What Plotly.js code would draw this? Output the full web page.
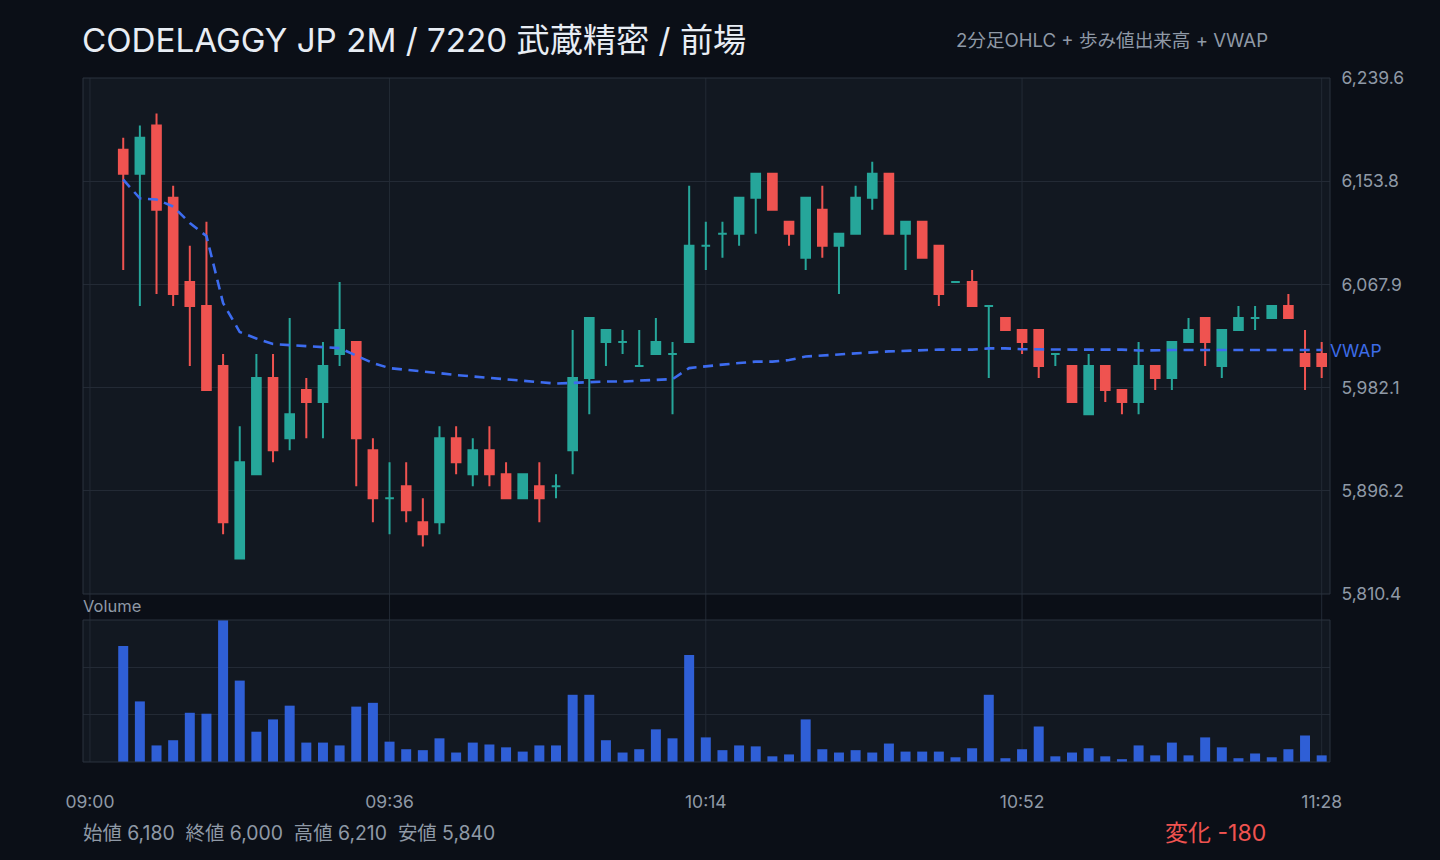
<!DOCTYPE html>
<html><head><meta charset="utf-8">
<script src="https://cdn.plot.ly/plotly-3.0.1.min.js"></script>
<style>html,body{margin:0;padding:0;background:#0b0f17;}#chart{width:1440px;height:860px;}</style>
</head><body><div id="chart"></div>
<script>
// ---- data ----
const time = ['09:04','09:06','09:08','09:10','09:12','09:14','09:16','09:18','09:20','09:22','09:24','09:26','09:28','09:30','09:32','09:34','09:36','09:38','09:40','09:42','09:44','09:46','09:48','09:50','09:52','09:54','09:56','09:58','10:00','10:02','10:04','10:06','10:08','10:10','10:12','10:14','10:16','10:18','10:20','10:22','10:24','10:26','10:28','10:30','10:32','10:34','10:36','10:38','10:40','10:42','10:44','10:46','10:48','10:50','10:52','10:54','10:56','10:58','11:00','11:02','11:04','11:06','11:08','11:10','11:12','11:14','11:16','11:18','11:20','11:22','11:24','11:26','11:28'];
const open = [6180,6160,6200,6140,6070,6050,6000,5840,5910,5990, 5940,5980,5970,6010,6020,5930,5890,5900,5870,5870, 5940,5910,5930,5910,5890,5900,5900,5930,5990,6020, 6020,6000,6010,6010,6020,6100,6110,6110,6140,6160, 6120,6090,6130,6100,6110,6140,6160,6110,6120,6100, 6070,6070,6050,6040,6030,6030,6010,6000,5960,6000, 5980,5970,6000,5990,6020,6040,6000,6030,6040,6040, 6050,6010,6010];
const high = [6190,6200,6210,6150,6100,6120,6010,5950,6010,6010, 6040,5990,6020,6070,6020,5940,5920,5920,5890,5950, 5950,5940,5950,5920,5910,5920,5910,6030,6040,6030, 6030,6030,6040,6020,6150,6120,6120,6140,6160,6160, 6120,6140,6150,6110,6150,6170,6160,6120,6120,6100, 6070,6080,6050,6040,6030,6030,6010,6000,6010,6000, 5980,6020,6000,6020,6040,6040,6030,6050,6050,6050, 6060,6030,6020];
const low = [6080,6050,6060,6050,6000,5980,5860,5840,5910,5920, 5930,5940,5940,6000,5900,5870,5860,5870,5850,5860, 5910,5900,5900,5890,5890,5870,5890,5910,5960,6000, 6010,6000,6010,5960,6020,6080,6090,6100,6110,6130, 6100,6080,6090,6060,6110,6130,6110,6080,6090,6050, 6070,6050,5990,6030,6010,5990,6000,5970,5960,5970, 5960,5960,5980,5980,6020,6000,5990,6030,6030,6040, 6040,5980,5990];
const close = [6160,6190,6130,6060,6050,5980,5870,5920,5990,5930, 5960,5970,6000,6030,5940,5890,5890,5880,5860,5940, 5920,5930,5910,5890,5910,5890,5900,5990,6040,6030, 6020,6000,6020,6010,6100,6100,6110,6140,6160,6130, 6110,6140,6100,6110,6140,6160,6110,6120,6090,6060, 6070,6050,6050,6030,6020,6000,6010,5970,6000,5980, 5970,6000,5990,6020,6030,6020,6030,6040,6040,6050, 6040,6000,6000];
const volume = [24500,12800,3500,4600,10400,10200,30000,17200,6400,9000, 11900,4100,4100,3500,11700,12500,4300,2700,2500,5000, 2000,4100,3700,3100,2200,3500,3500,14200,14200,4600, 2000,2700,6900,5000,22600,5200,2500,3500,3300,1200, 1600,9000,2700,2000,2500,2000,3900,2200,2200,2200, 1000,2900,14200,800,2700,7500,1200,2000,2900,1200, 600,3500,1400,4100,1400,5200,3100,800,1800,1000, 2700,5600,1400];
const vwap = [6155.1,6139.5,6138.5,6132.7,6119.0,6108.1,6052.4,6028.3,6022.9,6018.3, 6017.4,6016.6,6015.8,6014.9,6008.7,6002.5,5998.3,5997.0,5995.8,5994.1, 5992.5,5991.2,5990.0,5988.7,5987.9,5986.6,5985.4,5986.2,5986.6,5987.1, 5987.1,5987.9,5988.7,5989.1,5998.3,6000.0,6001.2,6002.5,6003.7,6003.7, 6005.0,6007.9,6008.9,6009.5,6010.5,6011.4,6012.2,6012.9,6013.0,6013.7, 6013.7,6013.7,6014.7,6014.7,6014.0,6013.7,6013.7,6013.7,6013.7,6013.7, 6013.7,6012.9,6013.3,6013.3,6013.3,6013.3,6013.3,6013.3,6013.3,6013.3, 6013.3,6013.3,6013.3];
const xTickLabels = ['09:00','09:36','10:14','10:52','11:28'];
const priceTicks = [5810.4,5896.2,5982.1,6067.9,6153.8,6239.6];
const priceRange = [5810.4,6239.6];
const volumeTicks = [10000,20000];
const volumeRange = [0,30000];
const xRange = ['08:59:10','11:29:00'];

// ---- helpers ----
const DAY = '2024-01-01 ';
const toD = t => DAY + t;
const W = 1440, H = 860, L = 83, R = 1330, T = 78, B = 762;
const px = x => (x - L) / (R - L);
const py = y => (B - y) / (B - T);
const FONT = "Inter, 'Noto Sans CJK JP', sans-serif";
const GRAY = '#8f99a6', GRID = '#232a35', FRAME = '#2a323f';
const GREEN = '#26a69a', RED = '#ef5350';

const x = time.map(toD);
const upIdx = [], dnIdx = [];
close.forEach((c, i) => (c >= open[i] ? upIdx : dnIdx).push(i));
const pick = (arr, idx) => idx.map(i => arr[i]);
function candle(idx, col) {
  return {
    type: 'candlestick', x: pick(x, idx), open: pick(open, idx), high: pick(high, idx),
    low: pick(low, idx), close: pick(close, idx), xaxis: 'x', yaxis: 'y',
    increasing: {line: {color: col, width: 2}, fillcolor: col},
    decreasing: {line: {color: col, width: 2}, fillcolor: col},
    whiskerwidth: 0, hoverinfo: 'skip', showlegend: false
  };
}
const traces = [
  candle(upIdx, GREEN), candle(dnIdx, RED),
  {type: 'scatter', mode: 'lines', x: x, y: vwap, xaxis: 'x', yaxis: 'y',
   line: {color: '#3d6cf0', width: 2.6, dash: '10px,6.6px'}, hoverinfo: 'skip', showlegend: false},
  {type: 'bar', x: x, y: volume, xaxis: 'x', yaxis: 'y2', marker: {color: '#2f5fd6'},
   hoverinfo: 'skip', showlegend: false}
];

const yPriceBottom = py(594), yVolTop = py(620);
const shapes = xTickLabels.map(t => ({type: 'line', xref: 'x', yref: 'paper', x0: toD(t), x1: toD(t),
  y0: 0, y1: 1, line: {color: GRID, width: 1}, layer: 'below'}));
shapes.push({type: 'rect', xref: 'paper', yref: 'paper', x0: 0, x1: 1, y0: yPriceBottom, y1: 1,
  line: {color: FRAME, width: 1}, fillcolor: 'rgba(0,0,0,0)', layer: 'above'});
shapes.push({type: 'rect', xref: 'paper', yref: 'paper', x0: 0, x1: 1, y0: 0, y1: yVolTop,
  line: {color: FRAME, width: 1}, fillcolor: 'rgba(0,0,0,0)', layer: 'above'});

const fmt = v => v.toLocaleString('en-US');
const o0 = open[0], cN = close[close.length - 1];
const hi = Math.max(...high), lo = Math.min(...low);
const chg = cN - o0;
const sp = '\u00a0\u00a0';
const statText = '始値 ' + fmt(o0) + sp + '終値 ' + fmt(cN) + sp + '高値 ' + fmt(hi) + sp + '安値 ' + fmt(lo);

const annotations = [
  {xref: 'paper', yref: 'paper', x: px(1270), y: py(40), xanchor: 'right', yanchor: 'middle',
   text: '2分足OHLC + 歩み値出来高 + VWAP', showarrow: false, font: {family: FONT, size: 18.6, color: GRAY}},
  {xref: 'paper', yref: 'y', x: px(1328), y: vwap[vwap.length - 1], xanchor: 'left', yanchor: 'middle',
   text: 'VWAP', showarrow: false, font: {family: FONT, size: 17.5, color: '#3d6ce8'}},
  {xref: 'paper', yref: 'paper', x: px(81), y: py(606), xanchor: 'left', yanchor: 'middle',
   text: 'Volume', showarrow: false, font: {family: FONT, size: 16.5, color: GRAY}},
  {xref: 'paper', yref: 'paper', x: px(81), y: py(833), xanchor: 'left', yanchor: 'middle',
   text: statText, showarrow: false, font: {family: FONT, size: 19.4, color: GRAY}},
  {xref: 'paper', yref: 'paper', x: px(1268), y: py(833), xanchor: 'right', yanchor: 'middle',
   text: '変化 ' + (chg > 0 ? '+' : '') + chg, showarrow: false, font: {family: FONT, size: 23, color: RED}}
];

const layout = {
  width: W, height: H,
  margin: {l: L, r: W - R, t: T, b: H - B, pad: 0},
  paper_bgcolor: '#0b0f17', plot_bgcolor: '#121821',
  font: {family: FONT, color: GRAY},
  title: {text: 'CODELAGGY JP 2M / 7220 武蔵精密 / 前場', xref: 'container', yref: 'container',
    x: 82 / W, xanchor: 'left', y: 1 - 40 / H, yanchor: 'middle',
    font: {family: FONT, size: 33.2, color: '#e8edf4'}},
  showlegend: false,
  boxgap: 0.48, boxgroupgap: 0, bargap: 0.4,
  xaxis: {type: 'date', range: xRange.map(toD), anchor: 'y2', rangeslider: {visible: false},
    tickvals: xTickLabels.map(toD), ticktext: xTickLabels, showgrid: false, zeroline: false,
    showline: false, ticks: 'outside', ticklen: 24, tickcolor: 'rgba(0,0,0,0)',
    tickfont: {family: FONT, size: 17.5, color: GRAY}, fixedrange: true},
  yaxis: {domain: [yPriceBottom, 1], range: priceRange, side: 'right', anchor: 'x',
    tickvals: priceTicks, tickformat: ',.1f', gridcolor: GRID, gridwidth: 1, zeroline: false,
    showline: false, ticks: 'outside', ticklen: 7, tickcolor: 'rgba(0,0,0,0)',
    tickfont: {family: FONT, size: 17.5, color: GRAY}, fixedrange: true},
  yaxis2: {domain: [0, yVolTop], range: volumeRange, anchor: 'x', tickvals: volumeTicks,
    showticklabels: false, gridcolor: GRID, zeroline: false, showline: false, fixedrange: true},
  shapes: shapes,
  annotations: annotations
};

Plotly.newPlot('chart', traces, layout, {displayModeBar: false, staticPlot: true});
</script>
</body></html>
